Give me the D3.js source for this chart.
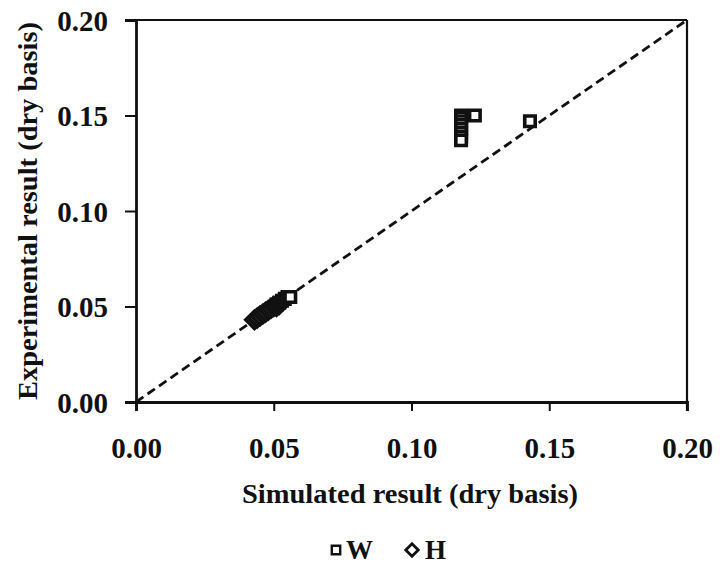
<!DOCTYPE html>
<html>
<head>
<meta charset="utf-8">
<script src="https://cdn.jsdelivr.net/npm/d3@7"></script>
<style>
  html, body { margin: 0; padding: 0; background: #fff; }
  svg { display: block; }
  text { font-family: "Liberation Serif", "Times New Roman", serif; font-weight: bold; fill: #111; }
</style>
</head>
<body>
<div id="chart"></div>
<script>
// ── data ────────────────────────────────────────────────────
const xTicks = [0.00, 0.05, 0.10, 0.15, 0.20];
const yTicks = [0.00, 0.05, 0.10, 0.15, 0.20];

// W series (squares): simulated vs experimental
const wSim = [0.118, 0.118, 0.118, 0.118, 0.118, 0.118, 0.118, 0.118, 0.123, 0.143,
              0.051, 0.052, 0.053, 0.054, 0.055, 0.056];
const wExp = [0.150, 0.149, 0.147, 0.145, 0.143, 0.141, 0.139, 0.137, 0.150, 0.147,
              0.051, 0.052, 0.053, 0.054, 0.055, 0.055];

// H series (diamonds)
const hSim = [0.043, 0.044, 0.045, 0.046, 0.047, 0.048, 0.049, 0.050, 0.051, 0.052];
const hExp = [0.043, 0.044, 0.045, 0.046, 0.047, 0.048, 0.049, 0.050, 0.050, 0.051];

const W = 720, H = 572;
const margin = { left: 136, right: 33, top: 20, bottom: 170 };

const svg = d3.select("#chart").append("svg")
  .attr("width", W).attr("height", H);

const x = d3.scaleLinear().domain([0, 0.2]).range([margin.left, W - margin.right]);
const y = d3.scaleLinear().domain([0, 0.2]).range([H - margin.bottom, margin.top]);

// ── frame: top and right lines ──────────────────────────────
svg.append("line")
  .attr("x1", x(0) - 11).attr("x2", x(0.2))
  .attr("y1", y(0.2)).attr("y2", y(0.2))
  .attr("stroke", "#111").attr("stroke-width", 2.2);
svg.append("line")
  .attr("x1", x(0.2)).attr("x2", x(0.2))
  .attr("y1", y(0.2)).attr("y2", y(0) + 9)
  .attr("stroke", "#111").attr("stroke-width", 2.2);

// ── axes ────────────────────────────────────────────────────
const xAxis = svg.append("g")
  .attr("transform", `translate(0,${y(0)})`)
  .call(d3.axisBottom(x).tickValues(xTicks).tickFormat(d3.format(".2f"))
    .tickSize(9).tickPadding(26));
const yAxis = svg.append("g")
  .attr("transform", `translate(${x(0)},0)`)
  .call(d3.axisLeft(y).tickValues(yTicks).tickFormat(d3.format(".2f"))
    .tickSize(11).tickPadding(17));

[xAxis, yAxis].forEach(g => {
  g.select(".domain").attr("stroke", "#111").attr("stroke-width", 2.8);
  g.selectAll(".tick line").attr("stroke", "#111").attr("stroke-width", 2);
  g.selectAll(".tick text")
    .attr("font-size", 29)
    .attr("fill", "#111");
});
yAxis.selectAll(".tick text").attr("dy", "0.36em");

// ── 1:1 dashed line ─────────────────────────────────────────
svg.append("line")
  .attr("x1", x(0)).attr("y1", y(0))
  .attr("x2", x(0.2)).attr("y2", y(0.2))
  .attr("stroke", "#111").attr("stroke-width", 2.8)
  .attr("stroke-dasharray", "9,5");

// ── points ──────────────────────────────────────────────────
const wData = wSim.map((v, i) => ({ sx: v, ex: wExp[i] }));
const hData = hSim.map((v, i) => ({ sx: v, ex: hExp[i] }));

svg.append("g").selectAll("path")
  .data(hData).enter().append("path")
  .attr("d", d3.symbol().type(d3.symbolDiamond2).size(190))
  .attr("transform", d => `translate(${x(d.sx)},${y(d.ex)})`)
  .attr("fill", "#fff").attr("stroke", "#111").attr("stroke-width", 3.6);

svg.append("g").selectAll("path")
  .data(wData).enter().append("path")
  .attr("d", d3.symbol().type(d3.symbolSquare2).size(140))
  .attr("transform", d => `translate(${x(d.sx)},${y(d.ex)})`)
  .attr("fill", "#fff").attr("stroke", "#111").attr("stroke-width", 3.6);

// ── axis titles ─────────────────────────────────────────────
svg.append("text")
  .attr("x", 410).attr("y", 503)
  .attr("text-anchor", "middle")
  .attr("font-size", 27)
  .attr("textLength", 336).attr("lengthAdjust", "spacingAndGlyphs")
  .text("Simulated result (dry basis)");

svg.append("text")
  .attr("transform", `translate(37,${(y(0) + y(0.2)) / 2}) rotate(-90)`)
  .attr("text-anchor", "middle")
  .attr("font-size", 27)
  .attr("textLength", 378).attr("lengthAdjust", "spacingAndGlyphs")
  .text("Experimental result (dry basis)");

// ── legend ──────────────────────────────────────────────────
const legend = svg.append("g").attr("transform", "translate(336,550)");
legend.append("path")
  .attr("d", d3.symbol().type(d3.symbolSquare2).size(90))
  .attr("fill", "#fff").attr("stroke", "#111").attr("stroke-width", 2.4);
legend.append("text").attr("x", 10).attr("y", 9).attr("font-size", 27).text("W");
legend.append("path")
  .attr("transform", "translate(76,0)")
  .attr("d", d3.symbol().type(d3.symbolDiamond2).size(100))
  .attr("fill", "#fff").attr("stroke", "#111").attr("stroke-width", 2.8);
legend.append("text").attr("x", 89).attr("y", 9).attr("font-size", 27).text("H");
</script>
</body>
</html>
